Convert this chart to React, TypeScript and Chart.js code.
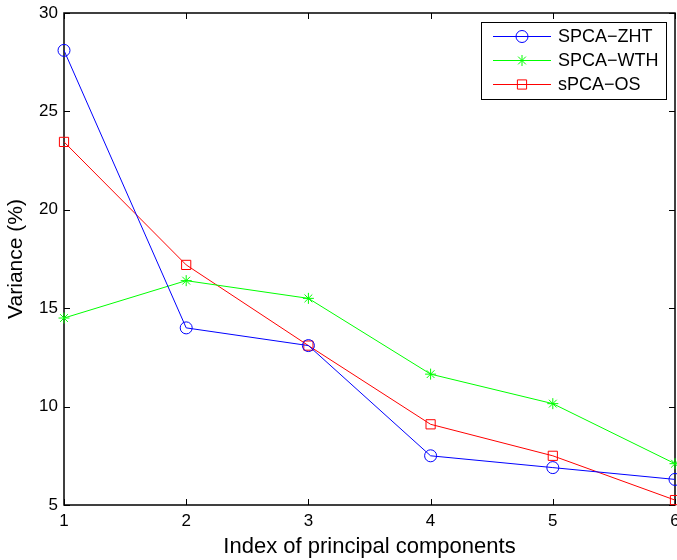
import React, { useEffect, useRef } from 'react';
import { Chart, registerables } from 'chart.js';

Chart.register(...registerables);

const componentIndex = [1, 2, 3, 4, 5, 6];
const spcaZht = [28.1, 14.0, 13.1, 7.5, 6.9, 6.3];
const spcaWth = [14.5, 16.4, 15.5, 11.65, 10.15, 7.1];
const spcaOs = [23.45, 17.2, 13.1, 9.1, 7.5, 5.25];
const yTickValues = [5, 10, 15, 20, 25, 30];
const xTickValues = [1, 2, 3, 4, 5, 6];
const seriesNames = ['SPCA\u2212ZHT', 'SPCA\u2212WTH', 'sPCA\u2212OS'];
const seriesColors = ['#0000ff', '#00ff00', '#ff0000'];

const FONT = '"Liberation Sans", Arial, Helvetica, sans-serif';

const toPoints = (ys: number[]) => componentIndex.map((x, i) => ({ x, y: ys[i] }));

function drawMarker(ctx: CanvasRenderingContext2D, style: string, r: number, x: number, y: number, color: string) {
  ctx.save();
  ctx.strokeStyle = color;
  ctx.lineWidth = 1;
  ctx.beginPath();
  if (style === 'circle') {
    ctx.arc(x, y, r, 0, Math.PI * 2);
  } else if (style === 'rect') {
    const s = Math.SQRT1_2 * r;
    ctx.rect(x - s, y - s, 2 * s, 2 * s);
  } else {
    for (let k = 0; k < 4; k++) {
      const ang = (k * Math.PI) / 4;
      ctx.moveTo(x + Math.cos(ang) * r, y + Math.sin(ang) * r);
      ctx.lineTo(x - Math.cos(ang) * r, y - Math.sin(ang) * r);
    }
  }
  ctx.stroke();
  ctx.restore();
}

const boxPlugin = {
  id: 'matlabBox',
  beforeDatasetsDraw(chart: any) {
    const { ctx, chartArea: a, scales } = chart;
    ctx.save();
    ctx.strokeStyle = '#000';
    ctx.lineWidth = 1.5;
    ctx.strokeRect(a.left, a.top, a.right - a.left, a.bottom - a.top);
    ctx.lineWidth = 1;
    const tl = 6;
    ctx.beginPath();
    xTickValues.forEach((v) => {
      const px = Math.round(scales.x.getPixelForValue(v)) + 0.5;
      ctx.moveTo(px, a.bottom);
      ctx.lineTo(px, a.bottom - tl);
      ctx.moveTo(px, a.top);
      ctx.lineTo(px, a.top + tl);
    });
    yTickValues.forEach((v) => {
      const py = Math.round(scales.y.getPixelForValue(v)) + 0.5;
      ctx.moveTo(a.left, py);
      ctx.lineTo(a.left + tl, py);
      ctx.moveTo(a.right, py);
      ctx.lineTo(a.right - tl, py);
    });
    ctx.stroke();
    ctx.restore();
  },
};

const legendPlugin = {
  id: 'matlabLegend',
  afterDraw(chart: any) {
    const { ctx } = chart;
    const bx = 481, by = 22, bw = 185, bh = 77;
    ctx.save();
    ctx.fillStyle = '#fff';
    ctx.fillRect(bx, by, bw, bh);
    ctx.strokeStyle = '#000';
    ctx.lineWidth = 1;
    ctx.strokeRect(bx + 0.5, by + 0.5, bw, bh);
    const rows = [36, 60, 84];
    chart.data.datasets.forEach((ds: any, i: number) => {
      const y = rows[i];
      ctx.strokeStyle = ds.borderColor;
      ctx.lineWidth = 1;
      ctx.beginPath();
      ctx.moveTo(493, y + 0.5);
      ctx.lineTo(551, y + 0.5);
      ctx.stroke();
      drawMarker(ctx, ds.pointStyle, ds.pointRadius, 522, y + 0.5, ds.borderColor);
      ctx.fillStyle = '#000';
      ctx.font = `18px ${FONT}`;
      ctx.textAlign = 'left';
      ctx.textBaseline = 'middle';
      ctx.fillText(ds.label, 558, y + 1);
    });
    ctx.restore();
  },
};

export default function App() {
  const canvasRef = useRef<HTMLCanvasElement | null>(null);

  useEffect(() => {
    const canvas = canvasRef.current;
    if (!canvas) return;
    const mk = (label: string, data: number[], color: string, pointStyle: string, pointRadius: number) => ({
      label,
      data: toPoints(data),
      borderColor: color,
      backgroundColor: 'rgba(0,0,0,0)',
      borderWidth: 1,
      pointStyle,
      pointRadius,
      pointBorderWidth: 1,
      pointBorderColor: color,
      pointBackgroundColor: 'rgba(0,0,0,0)',
      tension: 0,
      clip: false as any,
    });
    const chart = new Chart(canvas, {
      type: 'line',
      data: {
        datasets: [
          mk(seriesNames[0], spcaZht, seriesColors[0], 'circle', 6),
          mk(seriesNames[1], spcaWth, seriesColors[1], 'star', 5.5),
          mk(seriesNames[2], spcaOs, seriesColors[2], 'rect', 6.5),
        ],
      },
      options: {
        responsive: false,
        animation: false,
        devicePixelRatio: 1,
        layout: { autoPadding: false, padding: { top: 13, right: 2, left: 0, bottom: 0 } },
        plugins: { legend: { display: false }, tooltip: { enabled: false } },
        scales: {
          x: {
            type: 'linear',
            min: 1,
            max: 6,
            afterFit: (s: any) => { s.height = 55; s.paddingLeft = 0; s.paddingRight = 0; },
            afterBuildTicks: (s: any) => { s.ticks = xTickValues.map((v) => ({ value: v })); },
            grid: { display: false, drawTicks: false },
            border: { display: false },
            ticks: { color: '#000', padding: 6, font: { family: FONT, size: 17 }, maxRotation: 0, autoSkip: false },
            title: { display: true, text: 'Index of principal components', color: '#000', font: { family: FONT, size: 22 }, padding: { top: 0, bottom: 0 } },
          },
          y: {
            type: 'linear',
            min: 5,
            max: 30,
            afterFit: (s: any) => { s.width = 64; s.paddingTop = 0; s.paddingBottom = 0; },
            afterBuildTicks: (s: any) => { s.ticks = yTickValues.map((v) => ({ value: v })); },
            grid: { display: false, drawTicks: false },
            border: { display: false },
            ticks: { color: '#000', padding: 6, font: { family: FONT, size: 17 } },
            title: { display: true, text: 'Variance (%)', color: '#000', font: { family: FONT, size: 21 }, padding: { top: 4, bottom: 0 } },
          },
        },
      },
      plugins: [boxPlugin, legendPlugin],
    });
    return () => chart.destroy();
  }, []);

  return (
    <div style={{ position: 'fixed', left: 0, top: 0, width: 677, height: 560, background: '#fff' }}>
      <canvas ref={canvasRef} width={677} height={560} style={{ display: 'block' }} />
    </div>
  );
}
